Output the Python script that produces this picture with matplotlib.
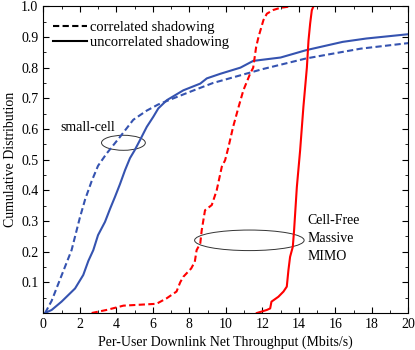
import matplotlib
matplotlib.use("Agg")
import matplotlib.pyplot as plt
from matplotlib.patches import Ellipse
from matplotlib.lines import Line2D
from matplotlib.ticker import MultipleLocator

plt.rcParams['font.family'] = ['Liberation Serif', 'DejaVu Serif']
plt.rcParams['font.size'] = 10

# small-cell, correlated shadowing
sc_corr_x = [0.1, 0.46, 0.92, 1.55, 2.0, 2.29, 2.65, 3.0, 3.47, 4.2, 4.93, 5.67, 6.3,
             7.13, 8.2, 9.3, 10.8, 12.0, 14.4, 17.4, 20]
sc_corr_y = [0, 0.04, 0.11, 0.205, 0.31, 0.37, 0.43, 0.48, 0.52, 0.574, 0.63, 0.66, 0.68,
             0.70, 0.725, 0.75, 0.775, 0.795, 0.83, 0.862, 0.88]

# small-cell, uncorrelated shadowing
sc_unc_x = [0.1, 0.46, 1.0, 1.74, 2.19, 2.47, 2.74, 3.0, 3.38, 3.66, 3.93, 4.2, 4.48, 4.75,
            5.0, 5.3, 5.67, 6.03, 6.3, 6.77, 7.67, 8.6, 8.96, 9.7, 10.8, 11.5, 13.0, 14.4,
            16.4, 17.7, 20]
sc_unc_y = [0, 0.01, 0.037, 0.08, 0.124, 0.17, 0.205, 0.254, 0.297, 0.34, 0.379, 0.42, 0.466,
            0.505, 0.53, 0.564, 0.607, 0.64, 0.667, 0.694, 0.726, 0.748, 0.765, 0.78, 0.80,
            0.822, 0.833, 0.857, 0.884, 0.895, 0.909]

# cell-free, correlated shadowing
cf_corr_x = [2.65, 3.47, 4.0, 4.39, 6.2, 6.76, 7.3, 7.5, 7.67, 8.1, 8.3, 8.4, 8.6, 8.68,
             8.86, 9.23, 9.5, 9.78, 9.96, 10.14, 10.4, 10.7, 10.96, 11.33, 11.5, 11.66,
             11.79, 12.06, 12.25, 12.6, 12.98, 13.6]
cf_corr_y = [0, 0.01, 0.018, 0.024, 0.03, 0.048, 0.07, 0.10, 0.118, 0.145, 0.167, 0.205,
             0.227, 0.27, 0.335, 0.352, 0.40, 0.477, 0.498, 0.54, 0.607, 0.672, 0.726, 0.78,
             0.80, 0.867, 0.90, 0.955, 0.976, 0.988, 0.995, 1.0]

# cell-free, uncorrelated shadowing
cf_unc_x = [11.7, 12.25, 12.43, 12.5, 12.88, 13.16, 13.34, 13.43, 13.52, 13.67, 13.74,
            13.89, 14.07, 14.25, 14.44, 14.53, 14.62, 14.71, 14.8]
cf_unc_y = [0, 0.01, 0.015, 0.037, 0.053, 0.07, 0.086, 0.14, 0.183, 0.216, 0.27, 0.41,
            0.53, 0.672, 0.80, 0.889, 0.944, 0.987, 1.0]

blue = '#3553b0'
red = '#ff0000'
dash = (0, (3, 1.6))

fig = plt.figure(figsize=(4.15, 3.5), dpi=100)
ax = fig.add_axes([0.1043, 0.1057, 0.8797, 0.8763])

ax.plot(sc_corr_x, sc_corr_y, color=blue, lw=1.5, linestyle=dash)
ax.plot(sc_unc_x, sc_unc_y, color=blue, lw=1.5)
ax.plot(cf_corr_x, cf_corr_y, color=red, lw=1.5, linestyle=dash)
ax.plot(cf_unc_x, cf_unc_y, color=red, lw=1.5)

ax.add_patch(Ellipse((4.39, 0.555), 2.4, 0.049, fill=False, lw=0.7, color='#333333'))
ax.add_patch(Ellipse((11.29, 0.237), 6.0, 0.067, fill=False, lw=0.7, color='#333333'))
ax.text(0.92, 0.606, 'small-cell', va='center', ha='left')
ax.text(14.47, 0.30, 'Cell-Free', va='center', ha='left')
ax.text(14.47, 0.242, 'Massive', va='center', ha='left')
ax.text(14.47, 0.183, 'MIMO', va='center', ha='left')

handles = [Line2D([], [], color='black', lw=1.5, linestyle=dash),
           Line2D([], [], color='black', lw=1.5)]
ax.legend(handles, ['correlated shadowing', 'uncorrelated shadowing'], loc='upper left',
          frameon=False, handlelength=2.3, handletextpad=0.2, labelspacing=0.1,
          borderaxespad=0.3, bbox_to_anchor=(0.0, 0.985), fontsize=10.5)

ax.set_xlim(0, 20)
ax.set_ylim(0, 1.0)
ax.set_xticks(range(0, 21, 2))
ax.set_yticks([0.1, 0.2, 0.3, 0.4, 0.5, 0.6, 0.7, 0.8, 0.9, 1.0])
ax.xaxis.set_minor_locator(MultipleLocator(1))
ax.yaxis.set_minor_locator(MultipleLocator(0.05))
ax.tick_params(which='both', direction='in', top=True, right=True)
ax.tick_params(which='major', length=4, width=0.8)
ax.tick_params(which='minor', length=2, width=0.6)
ax.set_xlabel('Per-User Downlink Net Throughput (Mbits/s)', labelpad=3)
ax.set_ylabel('Cumulative Distribution', labelpad=3)

fig.savefig('out.png', dpi=100)
